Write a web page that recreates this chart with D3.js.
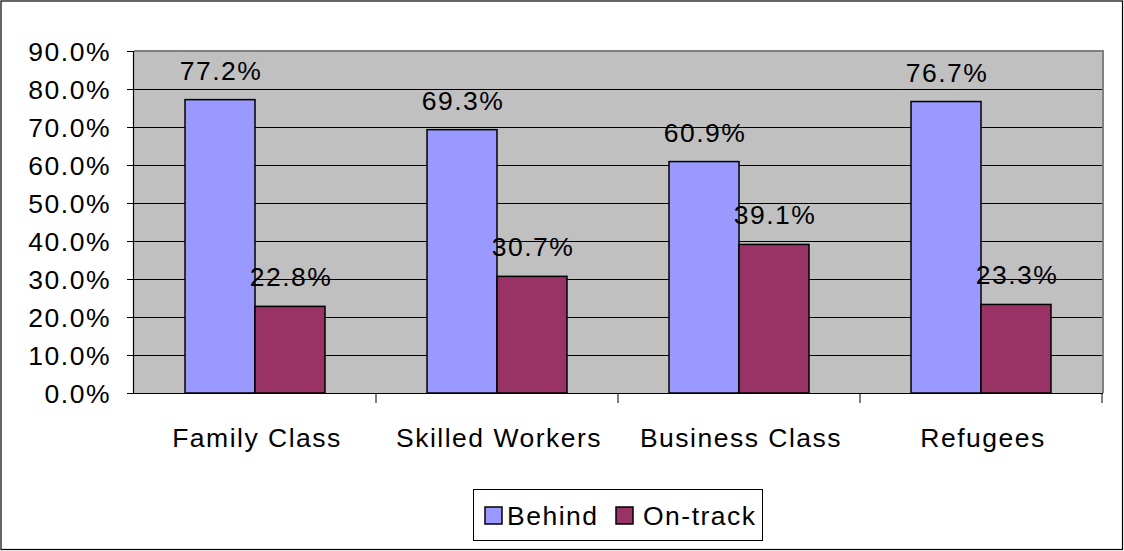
<!DOCTYPE html>
<html>
<head>
<meta charset="utf-8">
<script src="https://cdn.jsdelivr.net/npm/d3@7"></script>
<style>
  html, body { margin: 0; padding: 0; background: #fff; }
  svg { display: block; font-family: "Liberation Sans", Arial, sans-serif; }
  svg text { letter-spacing: 1.5px; }
</style>
</head>
<body>
<svg id="chart" width="1124" height="551"></svg>
<script>
// Share of students behind / on-track, by immigration category
const categories = ["Family Class", "Skilled Workers", "Business Class", "Refugees"];
const seriesNames = ["Behind", "On-track"];
const behind = [77.2, 69.3, 60.9, 76.7];
const onTrack = [22.8, 30.7, 39.1, 23.3];
const yTicks = [0, 10, 20, 30, 40, 50, 60, 70, 80, 90];
const colors = ["#9999FF", "#993366"];

const values = [behind, onTrack];
const rows = categories.map((c, i) => ({
  category: c,
  items: seriesNames.map((s, j) => ({ series: s, value: values[j][i], idx: j }))
}));

const svg = d3.select("#chart");
const W = 1124, H = 551;
const FS = 26.5;

// outer frame
svg.append("rect").attr("x", 1).attr("y", 1).attr("width", W - 2.5).attr("height", H - 2.5)
  .attr("fill", "#fff").attr("stroke", "#000").attr("stroke-width", 1.2);

const plot = { left: 134, right: 1102, top: 51, bottom: 393 };

const x = d3.scaleBand().domain(categories).range([plot.left, plot.right]).paddingInner(0).paddingOuter(0);
const xs = d3.scaleBand().domain(seriesNames).range([0, x.bandwidth()]).paddingInner(0).paddingOuter(0.729);
const y = d3.scaleLinear().domain([0, 90]).range([plot.bottom, plot.top]);

// plot background
svg.append("rect")
  .attr("x", plot.left).attr("y", plot.top)
  .attr("width", plot.right - plot.left).attr("height", plot.bottom - plot.top)
  .attr("fill", "#C0C0C0");

// gridlines
svg.append("g").selectAll("line").data(yTicks.filter(t => t > 0)).join("line")
  .attr("x1", plot.left).attr("x2", plot.right)
  .attr("y1", d => Math.round(y(d)) + 0.5).attr("y2", d => Math.round(y(d)) + 0.5)
  .attr("stroke", "#000").attr("stroke-width", 1);

// plot border top/right
svg.append("path")
  .attr("d", `M${plot.left},${plot.top} H${plot.right + 1} V${plot.bottom}`)
  .attr("fill", "none").attr("stroke", "#808080").attr("stroke-width", 2);

// bars
const groups = svg.append("g").selectAll("g").data(rows).join("g")
  .attr("transform", d => `translate(${x(d.category)},0)`);

groups.selectAll("rect").data(d => d.items).join("rect")
  .attr("x", d => xs(d.series))
  .attr("y", d => y(d.value))
  .attr("width", xs.bandwidth())
  .attr("height", d => y(0) - y(d.value))
  .attr("fill", d => colors[d.idx])
  .attr("stroke", "#000").attr("stroke-width", 1.5);

// y axis
const yAxis = d3.axisLeft(y).tickValues(yTicks).tickSize(7).tickPadding(16)
  .tickFormat(d => d3.format(".1f")(d) + "%");
const ya = svg.append("g").attr("transform", `translate(${plot.left},0)`).call(yAxis);
ya.select(".domain").attr("stroke", "#000").attr("stroke-width", 1.2).attr("d", `M-0.5,${plot.top}V${plot.bottom}`);
ya.selectAll(".tick line").attr("stroke", "#000");
ya.selectAll(".tick text").attr("font-size", FS).attr("fill", "#000")
  .attr("font-family", "Liberation Sans, Arial, sans-serif").attr("dy", "0.35em");

// x axis
const xAxis = d3.axisBottom(x).tickSize(0).tickFormat("");
const xa = svg.append("g").attr("transform", `translate(0,${plot.bottom})`).call(xAxis);
xa.select(".domain").attr("stroke", "#000").attr("stroke-width", 1.2).attr("d", `M${plot.left},0.5H${plot.right + 1}`);
// category separators
svg.append("g").selectAll("line").data(categories).join("line")
  .attr("x1", d => x(d) + x.bandwidth()).attr("x2", d => x(d) + x.bandwidth())
  .attr("y1", plot.bottom).attr("y2", plot.bottom + 10)
  .attr("stroke", "#000").attr("stroke-width", 1);

// category labels
svg.append("g").selectAll("text").data(categories).join("text")
  .attr("x", d => x(d) + x.bandwidth() / 2 + 2)
  .attr("y", 447)
  .attr("text-anchor", "middle")
  .attr("font-size", FS).attr("fill", "#000")
  .text(d => d);

// data labels
groups.selectAll("text").data(d => d.items).join("text")
  .attr("x", d => xs(d.series) + xs.bandwidth() / 2 + 1)
  .attr("y", d => y(d.value) - 20)
  .attr("text-anchor", "middle")
  .attr("font-size", FS).attr("fill", "#000")
  .text(d => d3.format(".1f")(d.value) + "%");

// legend
const lg = svg.append("g");
lg.append("rect").attr("x", 473.5).attr("y", 489.5).attr("width", 289).attr("height", 51)
  .attr("fill", "#fff").attr("stroke", "#000").attr("stroke-width", 1);
const legendX = [485, 616];
const legendTextGap = [22, 27];
const li = lg.selectAll("g").data(seriesNames).join("g")
  .attr("transform", (d, i) => `translate(${legendX[i]},507)`);
li.append("rect").attr("width", 17).attr("height", 17)
  .attr("fill", (d, i) => colors[i]).attr("stroke", "#000").attr("stroke-width", 1.5);
li.append("text").attr("x", (d, i) => legendTextGap[i]).attr("y", 18)
  .attr("font-size", FS).attr("fill", "#000").text(d => d);
</script>
</body>
</html>
